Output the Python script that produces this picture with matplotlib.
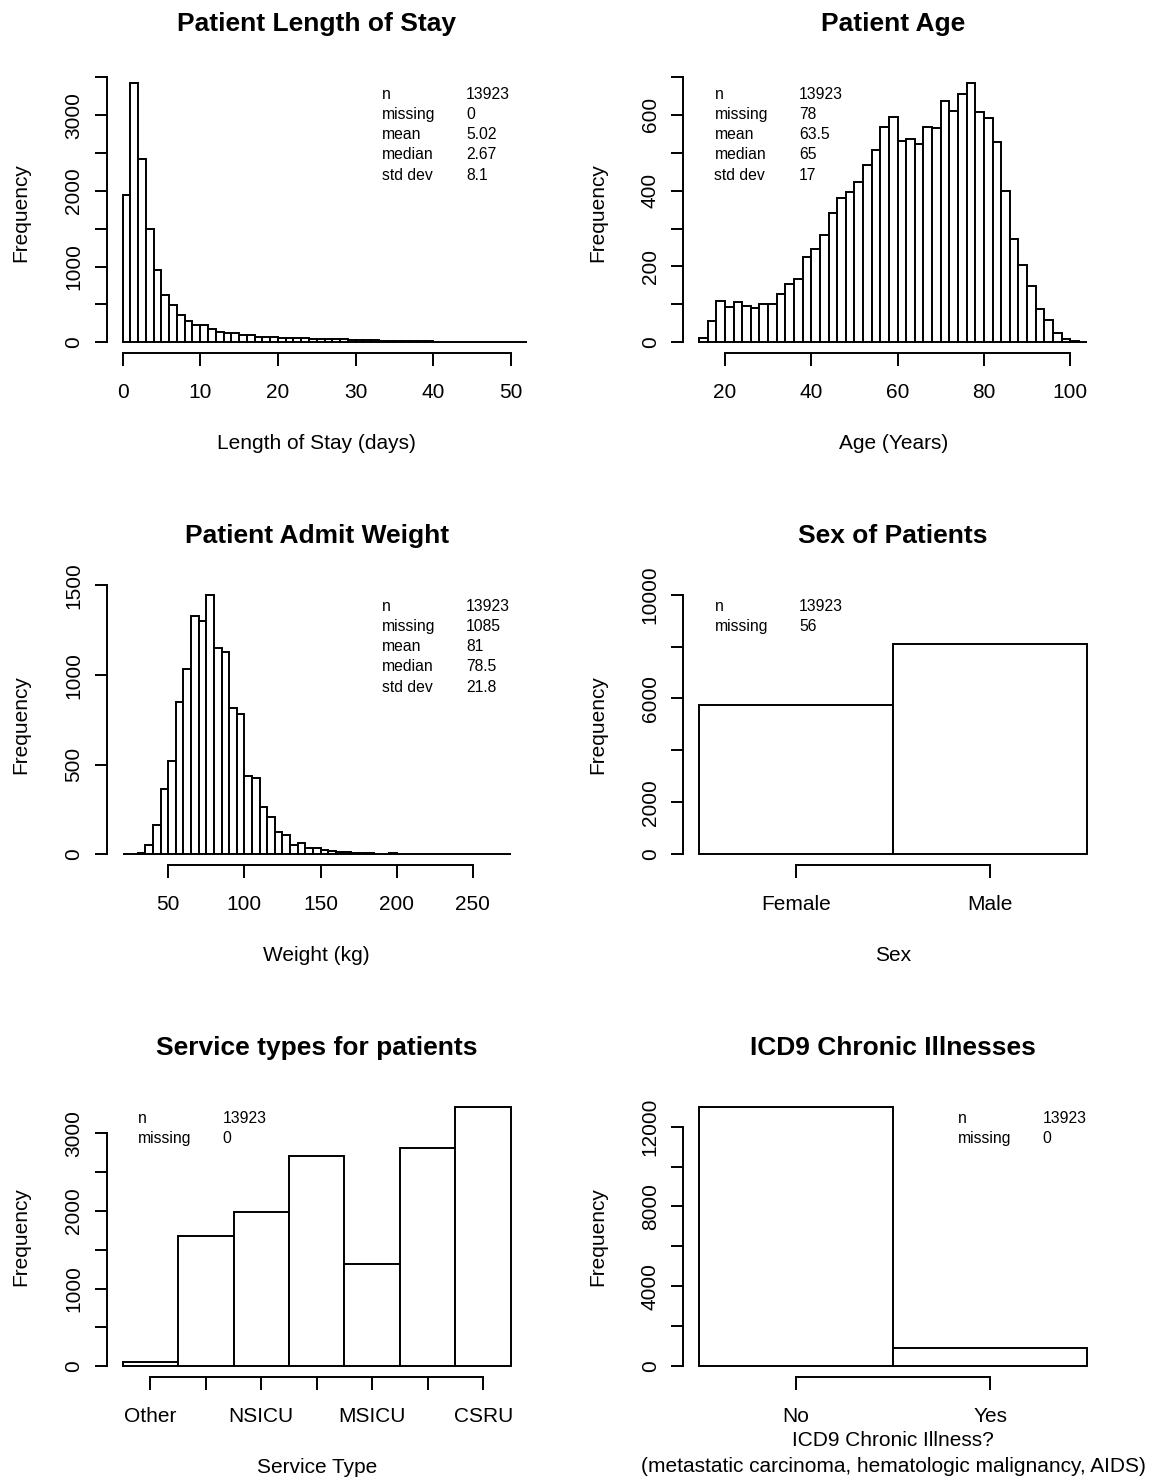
import matplotlib
matplotlib.use('Agg')
import matplotlib.pyplot as plt
import numpy as np

plt.rcParams['font.family'] = ['Liberation Sans', 'DejaVu Sans']

W, H = 1159, 1480

# length of stay counts, 1 day bins starting at 0
los_counts = [1950, 3429, 2414, 1496, 958, 631, 494, 362, 282, 234,
              225, 176, 141, 128, 124, 101, 93, 75, 66, 66,
              57, 53, 53, 57, 48, 44, 44, 40, 40, 31,
              30, 27, 24, 20, 20, 17, 15, 14, 12, 11,
              10, 9, 8, 8, 7, 6, 6, 5, 5, 5, 4, 4]
los_stats = [('n', '13923'), ('missing', '0'), ('mean', '5.02'),
             ('median', '2.67'), ('std dev', '8.1')]

# age counts, 2 year bins starting at 14
age_counts = [11, 57, 110, 92, 106, 97, 90, 100, 102, 128,
              154, 167, 226, 246, 283, 342, 380, 397, 423, 467,
              507, 567, 593, 530, 536, 522, 568, 566, 637, 611,
              655, 685, 608, 591, 527, 399, 272, 204, 148, 87,
              58, 24, 9, 3, 1]
age_stats = [('n', '13923'), ('missing', '78'), ('mean', '63.5'),
             ('median', '65'), ('std dev', '17')]

# admit weight counts, 5 kg bins starting at 20
weight_counts = [0, 1, 9, 51, 163, 363, 522, 848, 1034, 1330,
                 1300, 1449, 1152, 1127, 815, 785, 436, 423, 266, 208,
                 122, 110, 51, 64, 37, 34, 22, 21, 13, 11,
                 7, 6, 6, 4, 4, 7, 4, 2, 2, 1,
                 1, 1, 0, 1, 0, 1, 0, 0, 1, 0, 1]
weight_stats = [('n', '13923'), ('missing', '1085'), ('mean', '81'),
                ('median', '78.5'), ('std dev', '21.8')]

service_labels = ['Other', '', 'NSICU', '', 'MSICU', '', 'CSRU']
service_counts = [56, 1677, 1983, 2711, 1323, 2815, 3345]
service_stats = [('n', '13923'), ('missing', '0')]

sex_labels = ['Female', 'Male']
sex_counts = [5760, 8107]
sex_stats = [('n', '13923'), ('missing', '56')]

icd9_labels = ['No', 'Yes']
icd9_counts = [13000, 923]
icd9_stats = [('n', '13923'), ('missing', '0')]

fig = plt.figure(figsize=(W / 100, H / 100), dpi=100)

col_left = [107, 683.5]
plot_w, plot_h = 419.5, 280.5
row_top = [72.2, 584.2, 1096.2]


def make_ax(r, c):
    left = col_left[c]
    bottom = row_top[r] + plot_h
    return fig.add_axes([left / W, 1 - bottom / H, plot_w / W, plot_h / H])


def padded(a, b):
    d = 0.04 * (b - a)
    return a - d, b + d


def hist_panel(ax, edges, counts, xrange_, ymax, xticks, xticklabels,
               yticks, ylabels, title, xlabel, stats, stats_right,
               xlabel_y=-0.322):
    edges = np.asarray(edges, dtype=float)
    ax.bar(edges[:-1], counts, width=np.diff(edges), align='edge',
           color='white', edgecolor='black', linewidth=1.4)
    ax.set_xlim(*padded(*xrange_))
    ax.set_ylim(*padded(0, ymax))
    ax.set_xticks(xticks)
    ax.set_xticklabels(xticklabels)
    ax.set_yticks(yticks)
    ax.set_yticklabels([str(v) if v in ylabels else '' for v in yticks])
    for s in ['top', 'right']:
        ax.spines[s].set_visible(False)
    ax.spines['left'].set_bounds(yticks[0], yticks[-1])
    ax.spines['bottom'].set_bounds(xticks[0], xticks[-1])
    for s in ['left', 'bottom']:
        ax.spines[s].set_linewidth(1.4)
    ax.tick_params(direction='out', length=9, width=1.4, labelsize=15)
    ax.tick_params(axis='x', pad=13)
    ax.tick_params(axis='y', pad=15)
    for lab in ax.get_yticklabels():
        lab.set_rotation(90)
        lab.set_ha('center')
        lab.set_va('center')
    ax.set_title(title, fontsize=19, fontweight='bold', pad=0,
                 y=1 + 48 / plot_h, va='center')
    ax.set_xlabel(xlabel, fontsize=15, va='center', linespacing=1.45)
    ax.xaxis.set_label_coords(0.5, xlabel_y)
    ax.set_ylabel('Frequency', fontsize=15, va='center')
    ax.yaxis.set_label_coords(-86 / plot_w, 0.5)
    x0 = (274.5 if stats_right else 31) / plot_w
    for i, (k, v) in enumerate(stats):
        y = 1 - (22 + 20.25 * i) / plot_h
        ax.text(x0, y, k, transform=ax.transAxes, fontsize=11.3, va='center')
        ax.text(x0 + 84.5 / plot_w, y, v, transform=ax.transAxes,
                fontsize=11.3, va='center')


ax = make_ax(0, 0)
hist_panel(ax, np.arange(0, len(los_counts) + 1), los_counts, (0, 50),
           max(los_counts), np.arange(0, 51, 10), [str(v) for v in range(0, 51, 10)],
           list(range(0, 3501, 500)), [0, 1000, 2000, 3000],
           'Patient Length of Stay', 'Length of Stay (days)', los_stats, True)

ax = make_ax(0, 1)
age_edges = 14 + 2 * np.arange(len(age_counts) + 1)
hist_panel(ax, age_edges, age_counts, (age_edges[0], age_edges[-1]),
           max(age_counts), np.arange(20, 101, 20), [str(v) for v in range(20, 101, 20)],
           list(range(0, 701, 100)), [0, 200, 400, 600],
           'Patient Age', 'Age (Years)', age_stats, False)

ax = make_ax(1, 0)
w_edges = 20 + 5 * np.arange(len(weight_counts) + 1)
hist_panel(ax, w_edges, weight_counts, (w_edges[0], w_edges[-1]),
           max(weight_counts), np.arange(50, 251, 50), [str(v) for v in range(50, 251, 50)],
           list(range(0, 1501, 500)), [0, 500, 1000, 1500],
           'Patient Admit Weight', 'Weight (kg)', weight_stats, True)

ax = make_ax(1, 1)
hist_panel(ax, np.arange(len(sex_counts) + 1) + 0.5, sex_counts, (0.5, 2.5),
           10000, [1, 2], sex_labels,
           list(range(0, 10001, 2000)), [0, 2000, 6000, 10000],
           'Sex of Patients', 'Sex', sex_stats, False)

ax = make_ax(2, 0)
hist_panel(ax, np.arange(len(service_counts) + 1) + 0.5, service_counts, (0.5, 7.5),
           max(service_counts), list(range(1, 8)), service_labels,
           list(range(0, 3001, 500)), [0, 1000, 2000, 3000],
           'Service types for patients', 'Service Type', service_stats, False)

ax = make_ax(2, 1)
hist_panel(ax, np.arange(len(icd9_counts) + 1) + 0.5, icd9_counts, (0.5, 2.5),
           max(icd9_counts), [1, 2], icd9_labels,
           list(range(0, 12001, 2000)), [0, 4000, 8000, 12000],
           'ICD9 Chronic Illnesses',
           'ICD9 Chronic Illness?\n(metastatic carcinoma, hematologic malignancy, AIDS)',
           icd9_stats, True, xlabel_y=-77 / plot_h)

fig.savefig('out.png', dpi=100)
